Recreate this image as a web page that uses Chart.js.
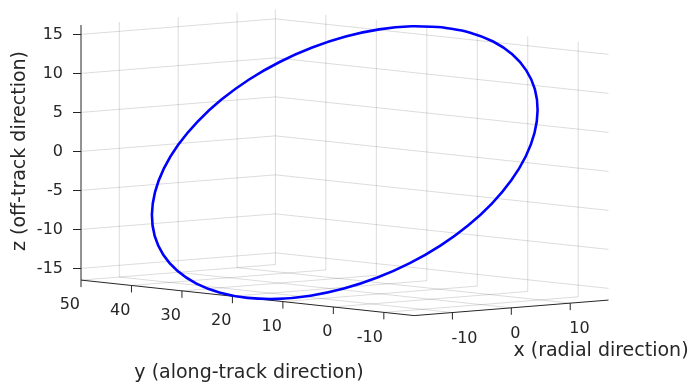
<!DOCTYPE html>
<html>
<head>
<meta charset="utf-8">
<script src="https://cdn.jsdelivr.net/npm/chart.js@4.4.1/dist/chart.umd.min.js"></script>
<style>
  html, body { margin: 0; padding: 0; background: #fff; }
  canvas { display: block; }
</style>
</head>
<body>
<canvas id="orbit" width="689" height="387"></canvas>
<script>
// relative orbit, one point every 10 deg of phase
const xRadial = [16.5, 16.25, 15.51, 14.29, 12.64, 10.61, 8.25, 5.64, 2.87, 0,
  -2.87, -5.64, -8.25, -10.61, -12.64, -14.29, -15.51, -16.25, -16.5,
  -16.25, -15.51, -14.29, -12.64, -10.61, -8.25, -5.64, -2.87, 0,
  2.87, 5.64, 8.25, 10.61, 12.64, 14.29, 15.51, 16.25, 16.5];
const yAlong = [17, 11.27, 5.71, 0.5, -4.21, -8.28, -11.58, -14.01, -15.5, -16,
  -15.5, -14.01, -11.58, -8.28, -4.21, 0.5, 5.71, 11.27, 17,
  22.73, 28.29, 33.5, 38.21, 42.28, 45.58, 48.01, 49.5, 50,
  49.5, 48.01, 45.58, 42.28, 38.21, 33.5, 28.29, 22.73, 17];
const zOff = [16.2, 15.95, 15.21, 14.01, 12.37, 10.36, 8.03, 5.44, 2.69, -0.15,
  -2.99, -5.74, -8.33, -10.66, -12.67, -14.31, -15.51, -16.25, -16.5,
  -16.25, -15.51, -14.31, -12.67, -10.66, -8.33, -5.74, -2.99, -0.15,
  2.69, 5.44, 8.03, 10.36, 12.37, 14.01, 15.21, 15.95, 16.2];

const xTicks = [-10, 0, 10];
const yTicks = [50, 40, 30, 20, 10, 0, -10];
const zTicks = [-15, -10, -5, 0, 5, 10, 15];

const xLim = [-16.5, 16.5];
const yLim = [-16, 50];
const zLim = [-16.5, 16.2];

// 3d view: horizontal px per unit of x / y, and how much the floor tilts
// (in z units per unit of x / y)
const ax = 5.888, ay = -5.045;
const tx = 0.0603, ty = 0.069;

function proj(x, y, z) {
    return {
        x: ax * (x - xLim[0]) + ay * (y - yLim[1]),
        y: z + tx * (x - xLim[0]) - ty * (yLim[1] - y)
    };
}

const font = 'DejaVu Sans';
const ink = '#262626';
const gridCol = 'rgba(38,38,38,0.16)';

const box = {
    id: 'box3d',
    beforeDatasetsDraw(chart) {
        const ctx = chart.ctx;
        const sx = chart.scales.x, sy = chart.scales.y;
        const P = (x, y, z) => {
            const p = proj(x, y, z);
            return [sx.getPixelForValue(p.x), sy.getPixelForValue(p.y)];
        };
        const [x0, x1] = xLim, [y0, y1] = yLim, [z0, z1] = zLim;
        const seg = (a, b) => { ctx.moveTo(a[0], a[1]); ctx.lineTo(b[0], b[1]); };

        ctx.save();
        // grid on back walls and floor
        ctx.strokeStyle = gridCol;
        ctx.lineWidth = 1;
        ctx.beginPath();
        zTicks.forEach(z => {
            seg(P(x0, y1, z), P(x1, y1, z));
            seg(P(x1, y1, z), P(x1, y0, z));
        });
        xTicks.forEach(x => {
            seg(P(x, y1, z0), P(x, y1, z1));
            seg(P(x, y1, z0), P(x, y0, z0));
        });
        yTicks.forEach(y => {
            seg(P(x1, y, z0), P(x1, y, z1));
            seg(P(x0, y, z0), P(x1, y, z0));
        });
        ctx.stroke();

        // axis lines
        ctx.strokeStyle = ink;
        ctx.beginPath();
        seg(P(x0, y1, z0), P(x0, y1, z1));
        seg(P(x0, y1, z0), P(x0, y0, z0));
        seg(P(x0, y0, z0), P(x1, y0, z0));
        yTicks.forEach(y => {
            const p = P(x0, y, z0);
            seg(p, [p[0], p[1] + 7]);
        });
        xTicks.forEach(x => {
            const p = P(x, y0, z0);
            seg(p, [p[0], p[1] + 7]);
        });
        ctx.stroke();

        // tick labels
        ctx.fillStyle = ink;
        ctx.font = '16px "' + font + '"';
        ctx.textBaseline = 'middle';
        ctx.textAlign = 'right';
        yTicks.forEach(y => {
            const p = P(x0, y, z0);
            ctx.fillText(String(y), p[0] - 1, p[1] + 25);
        });
        ctx.textAlign = 'left';
        xTicks.forEach(x => {
            const p = P(x, y0, z0);
            ctx.fillText(String(x), p[0] - 1, p[1] + 26);
        });

        // axis titles
        ctx.font = '19px "' + font + '"';
        ctx.textAlign = 'center';
        ctx.fillText('y (along-track direction)', 249, 373);
        ctx.fillText('x (radial direction)', 601, 351);
        ctx.translate(20, 151);
        ctx.rotate(-Math.PI / 2);
        ctx.fillText('z (off-track direction)', 0, 0);
        ctx.restore();
    }
};

const lo = proj(xLim[0], yLim[0], zLim[0]);
const hi = proj(xLim[1], yLim[1], zLim[1]);
const xMax = proj(xLim[1], yLim[0], 0).x;

new Chart(document.getElementById('orbit'), {
    type: 'scatter',
    data: {
        datasets: [{
            data: xRadial.map((x, i) => proj(x, yAlong[i], zOff[i])),
            showLine: true,
            borderColor: '#0000ff',
            borderWidth: 2.6,
            pointRadius: 0,
            tension: 0.35,
            fill: false
        }]
    },
    options: {
        responsive: false,
        animation: false,
        events: [],
        layout: { padding: { left: 0, right: 80.5, top: 9.5, bottom: 71.4 } },
        plugins: { legend: { display: false }, tooltip: { enabled: false } },
        scales: {
            x: { type: 'linear', display: false, min: 0, max: xMax },
            y: {
                type: 'linear',
                min: lo.y,
                max: hi.y,
                afterFit: s => {
                    s.width = 81;
                    s.paddingTop = 0;
                    s.paddingBottom = 0;
                },
                afterBuildTicks: s => { s.ticks = zTicks.map(v => ({ value: v })); },
                grid: { drawOnChartArea: false, drawTicks: true, tickLength: 8, color: ink, lineWidth: 1 },
                border: { display: false },
                ticks: { color: ink, padding: 10, font: { family: font, size: 16 } }
            }
        }
    },
    plugins: [box]
});
</script>
</body>
</html>
